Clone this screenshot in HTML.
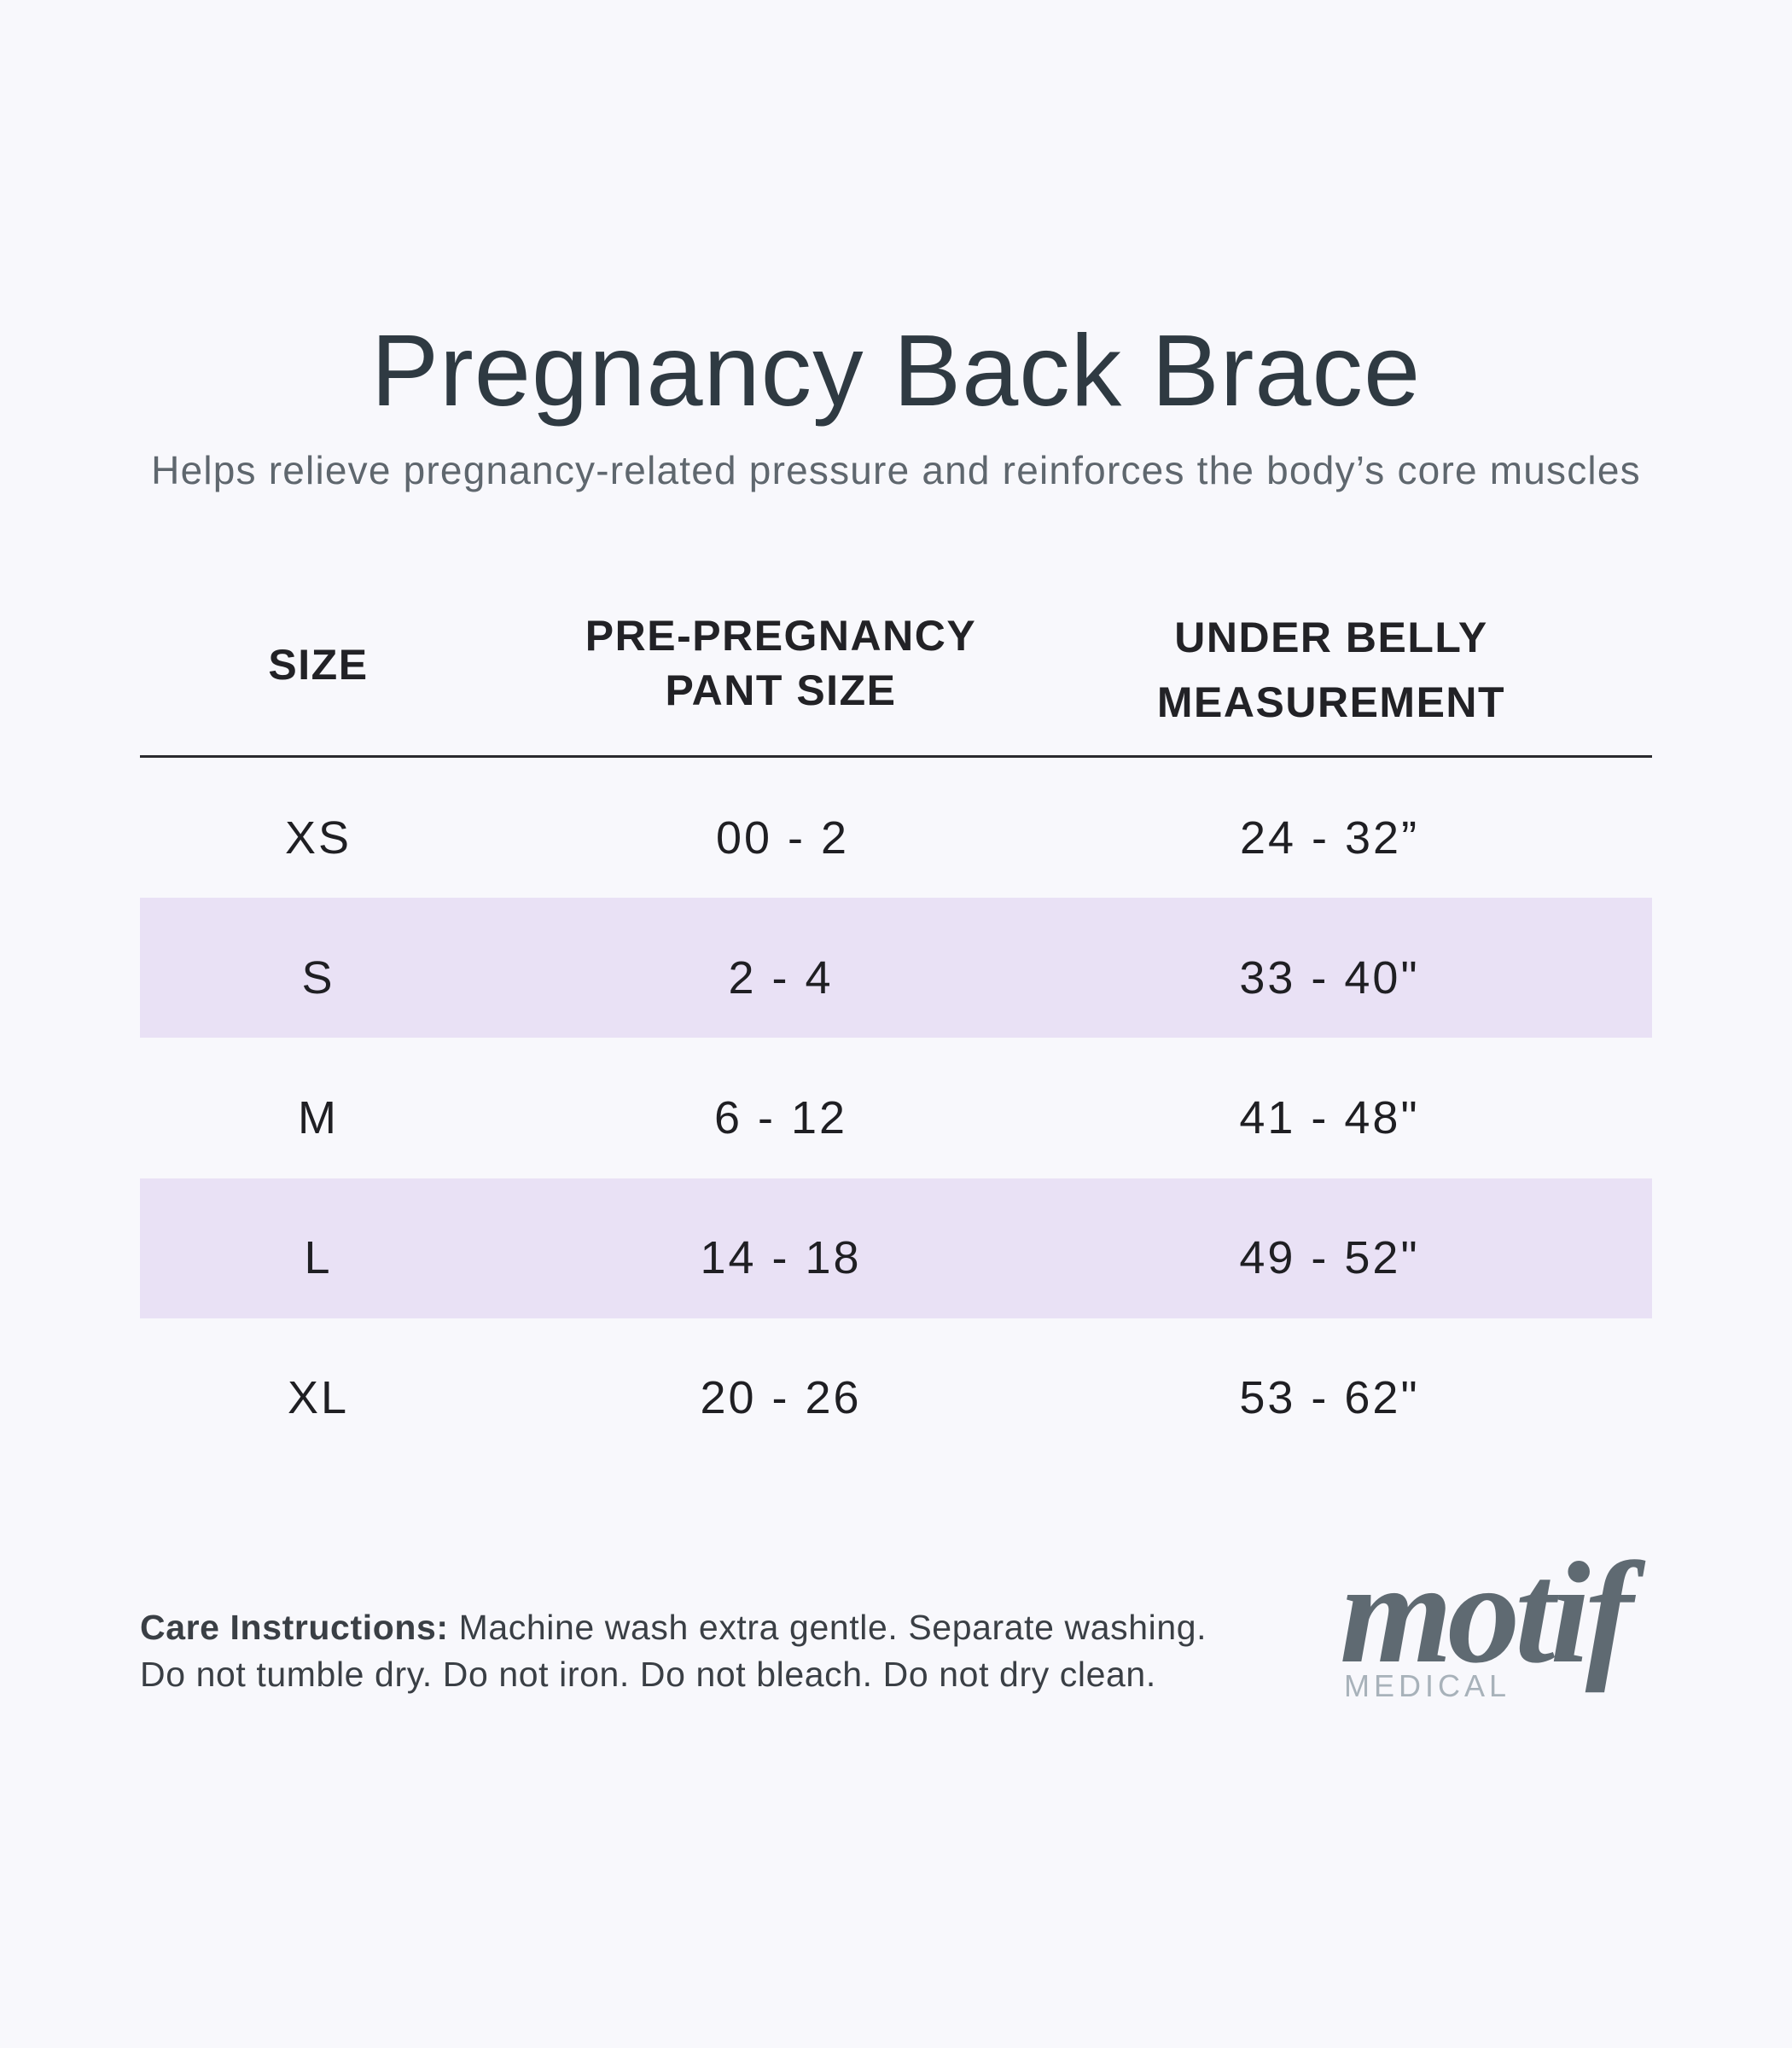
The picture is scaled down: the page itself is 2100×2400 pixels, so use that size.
<!DOCTYPE html>
<html><head><meta charset="utf-8"><style>
html,body{margin:0;padding:0}
body{width:2100px;height:2400px;background:#f8f8fc;position:relative;overflow:hidden;font-family:"Liberation Sans",sans-serif;color:#1f1f23}
.a{position:absolute;white-space:nowrap}
.c{transform:translateX(-50%);text-align:center}
.h{font-size:50px;letter-spacing:1.5px;line-height:64px;font-weight:bold;color:#222226}
.r{font-size:54px;line-height:60px;letter-spacing:3px}
.band{position:absolute;left:164px;width:1772px;height:164px;background:#e9e1f5}
</style></head><body>
<div class="a c" style="left:1050px;top:365px;font-size:119px;color:#2f3a42;line-height:140px;letter-spacing:1px">Pregnancy Back Brace</div>
<div class="a c" style="left:1050px;top:522px;font-size:46px;color:#5f676e;line-height:58px;letter-spacing:1.2px">Helps relieve pregnancy-related pressure and reinforces the body’s core muscles</div>

<div class="a c h" style="left:373px;top:747px">SIZE</div>
<div class="a c h" style="left:915px;top:713px">PRE-PREGNANCY<br>PANT SIZE</div>
<div class="a c h" style="left:1560px;top:709px;line-height:76px">UNDER BELLY<br>MEASUREMENT</div>
<div class="a" style="left:164px;top:885px;width:1772px;height:3px;background:#2a2a2e"></div>

<div class="band" style="top:1052px"></div>
<div class="band" style="top:1381px"></div>

<div class="a c r" style="left:373px;top:952px">XS</div>
<div class="a c r" style="left:917px;top:952px">00 - 2</div>
<div class="a c r" style="left:1558px;top:952px">24 - 32”</div>

<div class="a c r" style="left:373px;top:1116px">S</div>
<div class="a c r" style="left:915px;top:1116px">2 - 4</div>
<div class="a c r" style="left:1558px;top:1116px">33 - 40"</div>

<div class="a c r" style="left:373px;top:1280px">M</div>
<div class="a c r" style="left:915px;top:1280px">6 - 12</div>
<div class="a c r" style="left:1558px;top:1280px">41 - 48"</div>

<div class="a c r" style="left:373px;top:1444px">L</div>
<div class="a c r" style="left:915px;top:1444px">14 - 18</div>
<div class="a c r" style="left:1558px;top:1444px">49 - 52"</div>

<div class="a c r" style="left:373px;top:1608px">XL</div>
<div class="a c r" style="left:915px;top:1608px">20 - 26</div>
<div class="a c r" style="left:1558px;top:1608px">53 - 62"</div>

<div class="a" style="left:164px;top:1880px;font-size:41px;line-height:55px;color:#3a3f45;letter-spacing:0.6px"><b>Care Instructions:</b> Machine wash extra gentle. Separate washing.<br>Do not tumble dry. Do not iron. Do not bleach. Do not dry clean.</div>

<div class="a" style="left:1570px;top:1800px;font-family:'Liberation Serif',serif;font-style:italic;font-weight:bold;font-size:170px;color:#5f6a72;line-height:180px;letter-spacing:-6px">motif</div>
<div class="a" style="left:1575px;top:1954px;font-size:36px;letter-spacing:5px;color:#a8b2ba;line-height:44px">MEDICAL</div>
</body></html>
